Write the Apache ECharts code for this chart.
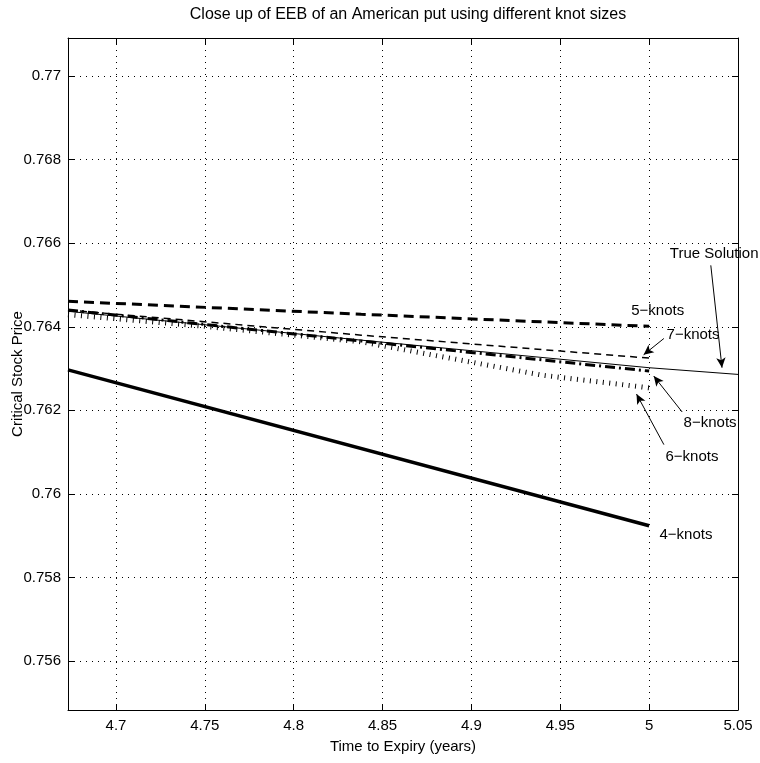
<!DOCTYPE html>
<html>
<head>
<meta charset="utf-8">
<script src="https://cdn.jsdelivr.net/npm/echarts@6/dist/echarts.min.js"></script>
<style>
  html, body { margin: 0; padding: 0; background: #fff; }
  #main { width: 760px; height: 763px; }
</style>
</head>
<body>
<div id="main"></div>
<script>
// tick labels
const xTicks = [4.7, 4.75, 4.8, 4.85, 4.9, 4.95, 5, 5.05];
const yTicks = [0.756, 0.758, 0.76, 0.762, 0.764, 0.766, 0.768, 0.77];

// curves, [time, price]
const trueSolution = [[4.673, 0.76437], [4.838, 0.76368], [5.0, 0.76302], [5.05, 0.76286]];
const knots4 = [[4.673, 0.76297], [5.0, 0.75924]];
const knots5 = [[4.673, 0.76461], [4.838, 0.76430], [5.0, 0.76401]];
const knots6 = [[4.673, 0.76429], [4.75, 0.76401], [4.838, 0.76364], [4.94, 0.76284], [5.0, 0.76254]];
const knots7 = [[4.673, 0.76440], [4.838, 0.76380], [5.0, 0.76325]];
const knots8 = [[4.673, 0.76440], [4.838, 0.76366], [5.0, 0.76294]];

// annotations: label text and where it sits
const noteNames = ['True Solution', '5\u2212knots', '7\u2212knots', '8\u2212knots', '6\u2212knots', '4\u2212knots'];
const notePos = [[5.0366, 0.76574], [5.0048, 0.76439], [5.0247, 0.76381], [5.0343, 0.76170], [5.0241, 0.76088], [5.0207, 0.75901]];
// arrows: from, to
const arrows = [
  [[5.0347, 0.76547], [5.0410, 0.76302]],
  [[5.0083, 0.76372], [4.9969, 0.76333]],
  [[5.0186, 0.76196], [5.0026, 0.76282]],
  [[5.0083, 0.76118], [4.9929, 0.76239]]
];

const font = 'Liberation Sans, Arial, sans-serif';

let myChart = echarts.init(document.getElementById('main'));

function curve(name, data, width, dash) {
  return {
    name: name,
    type: 'line',
    data: data,
    showSymbol: false,
    symbol: 'none',
    silent: true,
    animation: false,
    emphasis: { disabled: true },
    lineStyle: { color: '#000', width: width, type: dash, cap: 'butt' }
  };
}

let notesData = noteNames.map(function (n, i) {
  return { name: n, coord: notePos[i] };
});
let arrowData = arrows.map(function (a) {
  return [{ coord: a[0] }, { coord: a[1] }];
});

function boxAxis(extra) {
  // shared look of the four frame sides
  return Object.assign({
    type: 'value',
    axisLine: { show: true, onZero: false, lineStyle: { color: '#000', width: 1 } },
    axisLabel: { show: false },
    splitLine: { show: false }
  }, extra);
}

let option = {
  backgroundColor: '#fff',
  animation: false,
  title: {
    text: 'Close up of EEB of an American put using different knot sizes',
    left: 403,
    textAlign: 'center',
    top: 2,
    textStyle: { fontFamily: font, fontSize: 16, fontWeight: 'normal', color: '#000' }
  },
  grid: { left: 68, right: 22, top: 38, bottom: 53, containLabel: false, outerBoundsMode: 'none' },
  xAxis: [boxAxis({
    min: 4.673,
    max: 5.05,
    name: 'Time to Expiry (years)',
    nameLocation: 'middle',
    nameGap: 29,
    nameMoveOverlap: false,
    nameTextStyle: { fontFamily: font, fontSize: 15, color: '#000' },
    axisTick: { show: true, inside: true, length: 6, customValues: xTicks, lineStyle: { color: '#000' } },
    axisLabel: {
      show: true,
      customValues: xTicks,
      fontFamily: font, fontSize: 15, color: '#000', margin: 8,
      formatter: function (v) { return String(+v.toFixed(2)); }
    },
    splitLine: { show: true, lineStyle: { color: '#000', width: 1, type: [1, 5] } }
  }), boxAxis({
    position: 'top',
    min: 4.673,
    max: 5.05,
    axisTick: { show: true, inside: true, length: 6, customValues: xTicks, lineStyle: { color: '#000' } }
  })],
  yAxis: [boxAxis({
    min: 0.75483,
    max: 0.77091,
    name: 'Critical Stock Price',
    nameLocation: 'middle',
    nameGap: 43,
    nameMoveOverlap: false,
    nameTextStyle: { fontFamily: font, fontSize: 15, color: '#000' },
    axisTick: { show: true, inside: true, length: 6, customValues: yTicks, lineStyle: { color: '#000' } },
    axisLabel: {
      show: true,
      customValues: yTicks,
      fontFamily: font, fontSize: 15, color: '#000', margin: 7,
      formatter: function (v) { return String(+v.toFixed(3)); }
    },
    splitLine: { show: true, lineStyle: { color: '#000', width: 1, type: [1, 5] } }
  }), boxAxis({
    position: 'right',
    min: 0.75483,
    max: 0.77091,
    axisTick: { show: true, inside: true, length: 6, customValues: yTicks, lineStyle: { color: '#000' } }
  })],
  series: [
    curve('True Solution', trueSolution, 1, 'solid'),
    curve('4-knots', knots4, 3.5, 'solid'),
    curve('5-knots', knots5, 3, [10, 6]),
    curve('6-knots', knots6, 5, [1, 5.5]),
    curve('7-knots', knots7, 1.5, [7, 5]),
    curve('8-knots', knots8, 3, [10, 4, 2, 4]),
    {
      name: 'notes',
      type: 'line',
      data: [],
      clip: false,
      silent: true,
      markPoint: {
        symbol: 'circle',
        symbolSize: 0,
        silent: true,
        animation: false,
        label: {
          show: true, position: 'inside', formatter: '{b}',
          fontFamily: font, fontSize: 15, color: '#000'
        },
        data: notesData
      },
      markLine: {
        silent: true,
        animation: false,
        symbol: ['none', 'arrow'],
        symbolSize: [7, 10],
        label: { show: false },
        lineStyle: { color: '#000', width: 1, type: 'solid' },
        emphasis: { disabled: true },
        data: arrowData
      }
    }
  ]
};

option && myChart.setOption(option);
window.onresize = myChart.resize;
</script>
</body>
</html>
